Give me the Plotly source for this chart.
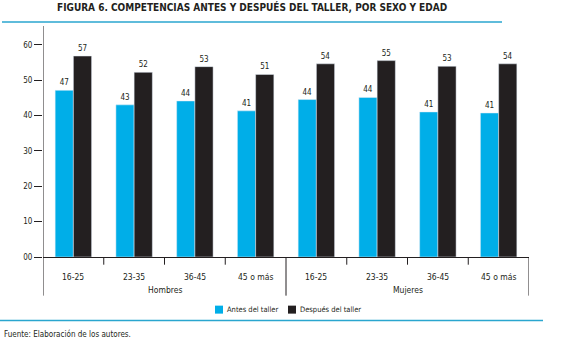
import plotly.graph_objects as go

categorias = ["16-25", "23-35", "36-45", "45 o más", "16-25", "23-35", "36-45", "45 o más"]
grupos = ["Hombres", "Mujeres"]
antes = [47.1, 43.0, 44.1, 41.3, 44.5, 45.1, 41.0, 40.7]
despues = [56.8, 52.2, 53.8, 51.6, 54.6, 55.5, 53.9, 54.6]
etiquetas_antes = ["47", "43", "44", "41", "44", "44", "41", "41"]
etiquetas_despues = ["57", "52", "53", "51", "54", "55", "53", "54"]
yticks = [0, 10, 20, 30, 40, 50, 60]
yticklabels = ["00", "10", "20", "30", "40", "50", "60"]
series = ["Antes del taller", "Después del taller"]

BLUE = "#00aee8"
BLACK = "#231f20"
LINE_BLUE = "#2aa6cf"
FONT = "DejaVu Sans Condensed, Liberation Sans, sans-serif"

W, H = 565, 342
L, R, T, B = 43, 529, 26, 257.3


def px(x):
    return (x - L) / (R - L)


def py(y):
    return (B - y) / (B - T)


xs = list(range(len(categorias)))
lblfont = dict(size=8, color=BLACK, family=FONT)

fig = go.Figure()
fig.add_trace(go.Bar(x=xs, y=antes, name=series[0], marker_color=BLUE,
                     text=etiquetas_antes, textposition="outside",
                     textfont=lblfont, outsidetextfont=lblfont, cliponaxis=False))
fig.add_trace(go.Bar(x=xs, y=despues, name=series[1], marker_color=BLACK,
                     text=etiquetas_despues, textposition="outside",
                     textfont=lblfont, outsidetextfont=lblfont, cliponaxis=False))

shapes = []
for b in [0.5, 1.5, 2.5, 4.5, 5.5, 6.5]:
    shapes.append(dict(type="line", xref="x", yref="paper", x0=b, x1=b, y0=0, y1=py(265),
                       line=dict(color=BLACK, width=1)))
shapes.append(dict(type="line", xref="x", yref="paper", x0=-0.5, x1=-0.5, y0=1, y1=py(296),
                   line=dict(color=BLACK, width=1)))
for b in [3.5, 7.5]:
    shapes.append(dict(type="line", xref="x", yref="paper", x0=b, x1=b, y0=0, y1=py(296),
                       line=dict(color=BLACK, width=1)))
shapes.append(dict(type="line", xref="paper", yref="paper", x0=px(2), x1=px(502), y0=py(22), y1=py(22),
                   line=dict(color=LINE_BLUE, width=1.5)))
shapes.append(dict(type="line", xref="paper", yref="paper", x0=px(0), x1=px(543), y0=py(321), y1=py(321),
                   line=dict(color=LINE_BLUE, width=1.5)))

annotations = []
for i, c in enumerate(categorias):
    annotations.append(dict(x=i, y=py(277), xref="x", yref="paper", text=c, showarrow=False,
                            font=dict(size=8.5, color=BLACK, family=FONT), yanchor="middle"))
for gi, g in enumerate(grupos):
    annotations.append(dict(x=1.5 + 4 * gi, y=py(290), xref="x", yref="paper", text=g, showarrow=False,
                            font=dict(size=8.5, color=BLACK, family=FONT), yanchor="middle"))
annotations.append(dict(x=px(252), y=py(7), xref="paper", yref="paper",
                        text="<b>FIGURA 6. COMPETENCIAS ANTES Y DESPUÉS DEL TALLER, POR SEXO Y EDAD</b>",
                        showarrow=False, font=dict(size=10, color=BLACK, family=FONT),
                        xanchor="center", yanchor="middle"))
annotations.append(dict(x=px(2), y=py(334), xref="paper", yref="paper",
                        text="Fuente: Elaboración de los autores.", showarrow=False,
                        font=dict(size=8, color=BLACK, family=FONT), xanchor="left", yanchor="middle"))

# legend drawn manually to match compact spacing
leg_x = [215, 288]
leg_colors = [BLUE, BLACK]
for lx, col, name in zip(leg_x, leg_colors, series):
    shapes.append(dict(type="rect", xref="paper", yref="paper", x0=px(lx), x1=px(lx + 8),
                       y0=py(314), y1=py(306), fillcolor=col, line=dict(width=0)))
    annotations.append(dict(x=px(lx + 10), y=py(310), xref="paper", yref="paper", text=name,
                            showarrow=False, font=dict(size=7.5, color=BLACK, family=FONT),
                            xanchor="left", yanchor="middle"))

fig.update_layout(
    width=W, height=H,
    margin=dict(l=L, r=W - R, t=T, b=H - B),
    plot_bgcolor="white", paper_bgcolor="white",
    barmode="group", bargap=0.4, bargroupgap=0,
    showlegend=False,
    xaxis=dict(range=[-0.5, 7.5], showticklabels=False, ticks="", showgrid=False, zeroline=False,
               showline=True, linecolor=BLACK, linewidth=1),
    yaxis=dict(range=[0, (B - T) / 3.543], tickvals=yticks, ticktext=yticklabels, ticks="outside",
               ticklen=8, tickcolor=BLACK, showgrid=False, zeroline=False, showline=False,
               tickfont=dict(size=8, color=BLACK, family=FONT)),
    shapes=shapes, annotations=annotations,
)

fig.write_html("out.html")
